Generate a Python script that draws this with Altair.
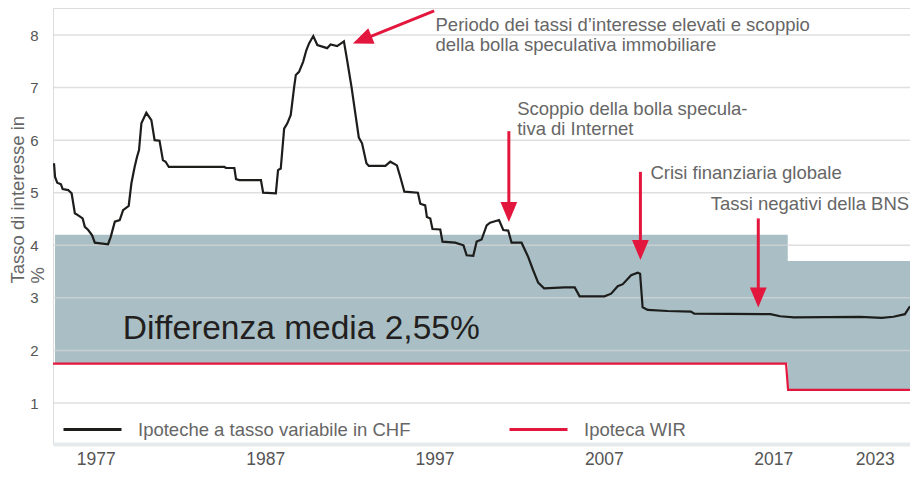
import altair as alt
import pandas as pd

# ---------------- data ----------------
chf_year = [1974.53, 1974.59, 1974.72, 1974.94, 1975.04, 1975.37, 1975.57, 1975.76, 1975.96,
            1976.22, 1976.35, 1976.55, 1976.78, 1976.94, 1977.72, 1977.88, 1978.12, 1978.41,
            1978.61, 1978.94, 1979.10, 1979.29, 1979.43, 1979.55, 1979.69, 1979.98, 1980.28,
            1980.47, 1980.76, 1980.96, 1981.12, 1981.31, 1984.59, 1984.69, 1985.18, 1985.28,
            1985.47, 1986.75, 1986.88, 1987.63, 1987.76, 1987.92, 1988.12, 1988.31, 1988.51,
            1988.71, 1988.81, 1989.00, 1989.24, 1989.43, 1989.59, 1989.84, 1990.08, 1990.47,
            1990.66, 1990.86, 1991.25, 1991.65, 1991.84, 1992.10, 1992.34, 1992.53, 1992.72,
            1992.98, 1993.12, 1994.10, 1994.39, 1994.78, 1994.98, 1995.22, 1996.02, 1996.16,
            1996.45, 1996.55, 1996.75, 1996.88, 1997.34, 1997.47, 1998.22, 1998.71, 1998.90,
            1999.29, 1999.49, 1999.78, 2000.08, 2000.28, 2000.81, 2001.06, 2001.35, 2001.55,
            2002.14, 2002.53, 2002.82, 2003.12, 2003.47, 2004.69, 2005.28, 2005.57, 2007.04,
            2007.43, 2007.82, 2008.12, 2008.61, 2009.00, 2009.14, 2009.29, 2009.59, 2010.76,
            2012.14, 2012.34, 2016.84, 2017.41, 2018.22, 2022.14, 2023.41, 2024.10, 2024.78,
            2025.08]
chf_rate = [5.56, 5.30, 5.19, 5.16, 5.07, 5.05, 4.99, 4.61, 4.57,
            4.51, 4.35, 4.29, 4.19, 4.05, 4.02, 4.16, 4.45, 4.48,
            4.67, 4.75, 5.18, 5.49, 5.68, 5.81, 6.32, 6.52, 6.38,
            6.00, 5.99, 5.62, 5.59, 5.49, 5.49, 5.47, 5.47, 5.26,
            5.24, 5.24, 5.00, 4.99, 5.43, 5.46, 6.22, 6.32, 6.48,
            7.01, 7.24, 7.30, 7.49, 7.71, 7.84, 7.98, 7.81, 7.77,
            7.75, 7.82, 7.79, 7.88, 7.52, 7.01, 6.47, 6.05, 5.94,
            5.56, 5.51, 5.51, 5.59, 5.52, 5.30, 5.02, 5.00, 4.79,
            4.76, 4.54, 4.51, 4.31, 4.30, 4.07, 4.05, 4.00, 3.81,
            3.80, 4.07, 4.11, 4.38, 4.43, 4.48, 4.29, 4.28, 4.05,
            4.05, 3.78, 3.53, 3.29, 3.18, 3.20, 3.20, 3.03, 3.03,
            3.08, 3.22, 3.26, 3.43, 3.48, 3.46, 2.82, 2.77, 2.75,
            2.74, 2.70, 2.69, 2.65, 2.63, 2.64, 2.62, 2.64, 2.69,
            2.84]

wir_year = [1974.47, 2017.76, 2017.88, 2025.08]
wir_rate = [1.75, 1.75, 1.25, 1.25]

band_year = [1974.59, 2017.86, 2025.08]
band_top = [4.20, 3.70, 3.70]
band_bottom = [1.75, 1.25, 1.25]

series = ["Ipoteche a tasso variabile in CHF", "Ipoteca WIR"]
series_colors = ["#1d1d1b", "#e3173e"]

y_ticks = [1, 2, 3, 4, 5, 6, 7, 8]
x_ticks = [1977, 1987, 1997, 2007, 2017, 2023]
y_title = ["Tasso di interesse in", "%"]

notes_text = [["Periodo dei tassi d\u2019interesse elevati e scoppio",
               "della bolla speculativa immobiliare"],
              ["Scoppio della bolla specula-", "tiva di Internet"],
              ["Crisi finanziaria globale"],
              ["Tassi negativi della BNS"]]
notes_year = [1997.06, 2001.88, 2009.75, 2013.31]
notes_rate = [8.068, 6.475, 5.259, 4.669]

arrow_year = [1996.98, 2001.39, 2009.16, 2016.12]
arrow_rate = [8.458, 6.171, 5.397, 4.511]
arrow_end_year = [1992.73, 2001.39, 2009.16, 2016.12]
arrow_end_rate = [7.908, 4.631, 3.909, 3.009]
tip_year = [1992.18, 2001.39, 2009.16, 2016.12]
tip_rate = [7.838, 4.441, 3.719, 2.819]
tip_angle = [68, 0, 0, 0]

mean_label = ["Differenza media 2,55%"]
mean_year = [1978.59]
mean_rate = [2.217]

# ---------------- tables ----------------
lines_df = pd.DataFrame({
    "year": chf_year + wir_year,
    "rate": chf_rate + wir_rate,
    "serie": [series[0]] * len(chf_year) + [series[1]] * len(wir_year),
})
band_df = pd.DataFrame({"year": band_year, "top": band_top, "bottom": band_bottom})
grid_df = pd.DataFrame({"rate": y_ticks})
notes_df = pd.DataFrame({"year": notes_year, "rate": notes_rate, "text": notes_text})
arrows_df = pd.DataFrame({"year": arrow_year, "rate": arrow_rate,
                          "year2": arrow_end_year, "rate2": arrow_end_rate})
tips_df = pd.DataFrame({"year": tip_year, "rate": tip_rate, "angle": tip_angle})
mean_df = pd.DataFrame({"year": mean_year, "rate": mean_rate, "text": mean_label})

FONT = "Liberation Sans"
RED = series_colors[1]

x_scale = alt.Scale(domain=[1974.47, 2025.08], nice=False, zero=False)
y_scale = alt.Scale(domain=[0.2201, 8.5138], nice=False, zero=False)
x_axis = alt.Axis(title=None, values=x_ticks, format="d", grid=False, ticks=False,
                  domainColor="#e5eaed", domainWidth=4, labelFontSize=17.5,
                  labelColor="#555555", labelPadding=6, labelFlush=False, labelFont=FONT)
y_axis = alt.Axis(title=y_title, values=y_ticks, format="d", grid=False, ticks=False,
                  domain=False, labelFontSize=15, labelColor="#555555", labelPadding=15,
                  labelFont=FONT, titleFont=FONT, titleFontSize=18.5, titleFontWeight="normal",
                  titleColor="#666666", titleAngle=270, titleAlign="left",
                  titleBaseline="top", titleX=-45, titleY=275, titleLineHeight=20)


def X(field="year"):
    return alt.X(f"{field}:Q", scale=x_scale, axis=x_axis)


def Y(field="rate"):
    return alt.Y(f"{field}:Q", scale=y_scale, axis=y_axis)


band = alt.Chart(band_df).mark_area(interpolate="step-after", color="#a9bfc5").encode(
    x=X(), y=Y("top"), y2="bottom:Q")

grid = alt.Chart(grid_df).mark_rule(color="#d4d4d4", opacity=0.75, strokeWidth=1.5).encode(
    y=Y())

lines = alt.Chart(lines_df).mark_line(strokeWidth=2.2).encode(
    x=X(), y=Y(),
    color=alt.Color("serie:N",
                    scale=alt.Scale(domain=series, range=series_colors),
                    legend=alt.Legend(title=None, orient="none", legendX=9, legendY=391,
                                      direction="horizontal", symbolType="stroke",
                                      symbolSize=3364, symbolStrokeWidth=3,
                                      labelFontSize=18.5, labelColor="#666666",
                                      labelFont=FONT, labelOffset=15, labelLimit=0,
                                      columnPadding=92, padding=0)),
    detail="serie:N")

shafts = alt.Chart(arrows_df).mark_rule(color=RED, strokeWidth=3).encode(
    x=X(), y=Y(), x2="year2:Q", y2="rate2:Q")

heads = alt.Chart(tips_df).mark_point(
    shape="M0,0L-0.42,-1L0.42,-1Z", filled=True, color=RED, size=1600,
    strokeWidth=0, opacity=1).encode(
    x=X(), y=Y(), angle=alt.Angle("angle:Q", scale=None))

notes = alt.Chart(notes_df).mark_text(
    align="left", baseline="alphabetic", fontSize=18.5, lineHeight=19.5,
    color="#666666", font=FONT).encode(x=X(), y=Y(), text="text")

mean_text = alt.Chart(mean_df).mark_text(
    align="left", baseline="alphabetic", fontSize=33.5, color="#231f20",
    font=FONT).encode(x=X(), y=Y(), text="text:N")

chart = alt.layer(band, grid, lines, shafts, heads, notes, mean_text).properties(
    width=857, height=436,
    autosize=alt.AutoSizeParams(type="none"),
    padding={"left": 45, "top": 0, "right": 0, "bottom": 26},
).configure_view(stroke=None).configure(font=FONT)

chart.save("out.html", embed_options={"renderer": "svg", "actions": False})
